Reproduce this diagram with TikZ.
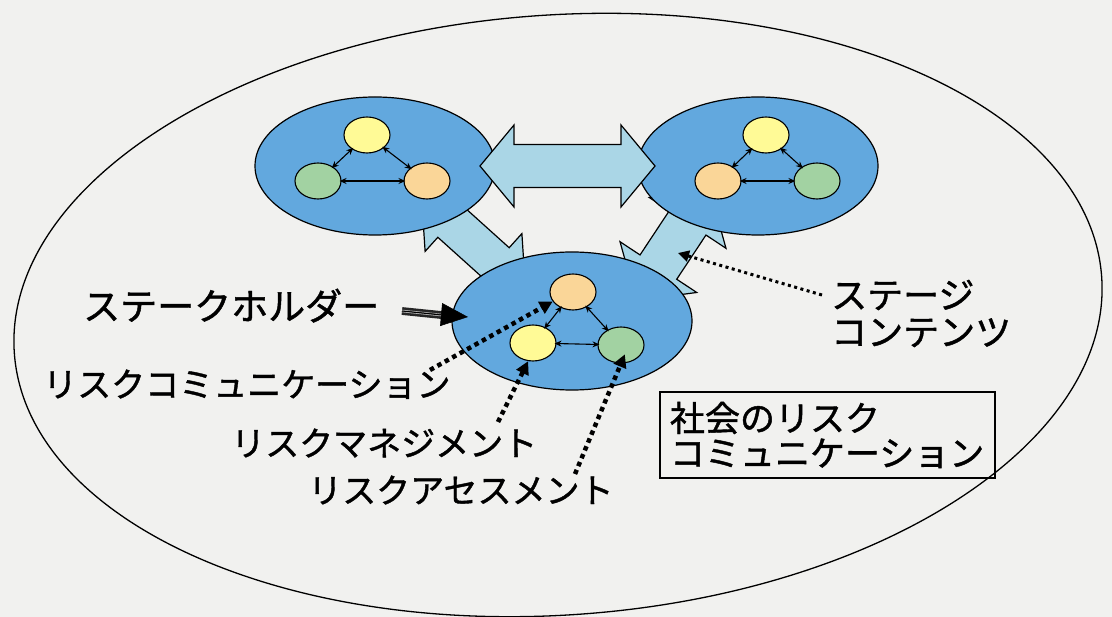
\documentclass[tikz,border=0pt]{standalone}
\usepackage{fontspec}
\newfontfamily\jp[FakeBold=1.2]{Noto Sans CJK JP}
\usetikzlibrary{arrows.meta,shapes.geometric}
\definecolor{paper}{RGB}{241,241,239}
\definecolor{ellblue}{RGB}{98,168,222}
\definecolor{arrblue}{RGB}{170,214,230}
\definecolor{cyellow}{RGB}{255,250,150}
\definecolor{corange}{RGB}{250,214,152}
\definecolor{cgreen}{RGB}{162,210,162}
\tikzset{
 bigell/.style={draw, ellipse, line width=1.3pt, inner sep=0pt, minimum width=1090pt, minimum height=600pt},
 group/.style={draw, ellipse, fill=ellblue, line width=1.2pt, inner sep=0pt, minimum width=240pt, minimum height=138pt},
 member/.style={draw, ellipse, line width=1.1pt, inner sep=0pt, minimum width=46pt, minimum height=36pt},
 link/.style={{Stealth[length=7pt,width=6pt]}-{Stealth[length=7pt,width=6pt]}, line width=1.1pt, shorten <=-2pt, shorten >=-2pt},
 bigarrow/.style={fill=arrblue, draw=black, line width=1.2pt},
 lbl/.style={inner sep=0pt, anchor=base west},
 dotline/.style={line width=4.5pt, dash pattern=on 4.5pt off 4pt, -{Triangle[length=13pt,width=13pt]}},
 thindot/.style={line width=3pt, dash pattern=on 3pt off 3.5pt, -{Triangle[length=11pt,width=11pt]}},
}
\newcommand{\DblArrow}[7]{%
 \begin{scope}[shift={(#1,#2)}, rotate=#3]
  \filldraw[bigarrow] (-#4,0) -- ({-#4+#5},#7) -- ({-#4+#5},#6) -- ({#4-#5},#6) -- ({#4-#5},#7) -- (#4,0)
   -- ({#4-#5},-#7) -- ({#4-#5},-#6) -- ({-#4+#5},-#6) -- ({-#4+#5},-#7) -- cycle;
 \end{scope}}
\begin{document}
\begin{tikzpicture}[x=1pt,y=-1pt]
\useasboundingbox (0,0) rectangle (1112,617);
\fill[paper] (0,0) rectangle (1112,617);
% society
\node[bigell, rotate=4] (soc) at (558,315) {};
% diagonal exchange arrows (behind groups)
\DblArrow{473.5}{242.5}{-42}{70}{40}{20}{39}
\DblArrow{673}{245}{56.5}{66.5}{40}{22}{46}
% groups
\node[group] (A) at (375,166) {};
\node[group] (B) at (758,166) {};
\node[group] (C) at (572,321) {};
% horizontal exchange arrow
\DblArrow{567.5}{166}{0}{87.5}{34}{21.5}{41}
% members
\node[member, fill=cyellow] (A1) at (367,135) {};
\node[member, fill=cgreen]  (A2) at (318,181) {};
\node[member, fill=corange] (A3) at (427,181) {};
\node[member, fill=cyellow] (B1) at (766,135) {};
\node[member, fill=corange] (B2) at (718,181) {};
\node[member, fill=cgreen]  (B3) at (817,181) {};
\node[member, fill=corange] (C1) at (573,292) {};
\node[member, fill=cyellow] (C2) at (533,343) {};
\node[member, fill=cgreen]  (C3) at (621,345) {};
\draw[link] (A1) -- (A2);
\draw[link] (A1) -- (A3);
\draw[link] (A2) -- (A3);
\draw[link] (B1) -- (B2);
\draw[link] (B1) -- (B3);
\draw[link] (B2) -- (B3);
\draw[link] (C1) -- (C2);
\draw[link] (C1) -- (C3);
\draw[link] (C2) -- (C3);
% labels
\node[lbl, font=\jp\fontsize{37}{37}\selectfont] (sh) at (83,320) {ステークホルダー};
\node[lbl, font=\jp\fontsize{34}{34}\selectfont] (rc) at (43,397) {リスクコミュニケーション};
\node[lbl, font=\jp\fontsize{34}{34}\selectfont] (rm) at (231,456) {リスクマネジメント};
\node[lbl, font=\jp\fontsize{34}{34}\selectfont] (ra) at (308,503) {リスクアセスメント};
\node[inner sep=0pt, anchor=west, align=left, font=\jp\fontsize{36}{37}\selectfont] (st) at (831,313.5) {ステージ\\コンテンツ};
\node[draw, line width=1.4pt, minimum width=335pt, minimum height=86pt, text width=315pt, align=left,
      inner sep=0pt, font=\jp\fontsize{35}{35}\selectfont] (box) at (827.5,435) {社会のリスク\\コミュニケーション};
% connector coordinates
\coordinate (shS) at (402,311);
\coordinate (shM) at (446,315.5);
\coordinate (shT) at (468,317);
\coordinate (rcS) at (430,370);
\coordinate (rmS) at (498,422);
\coordinate (raS) at (575,474);
\coordinate (stS) at (822,295);
\coordinate (stT) at (678,253);
% stakeholder arrow
\draw[black!85, line width=2.6pt, double=gray!55, double distance=2.6pt] (shS) -- (shM);
\draw[black, line width=1pt] (shS) -- (shM);
\draw[line width=0.5pt, -{Triangle[length=27pt,width=23pt]}] (shS) -- (shT);
% dotted pointers
\draw[dotline] (rcS) -- (C1.205);
\draw[dotline] (rmS) -- (C2.255);
\draw[dotline, shorten >=-10pt] (raS) -- (C3.south);
\draw[thindot] (stS) -- (stT);
\end{tikzpicture}
\end{document}
